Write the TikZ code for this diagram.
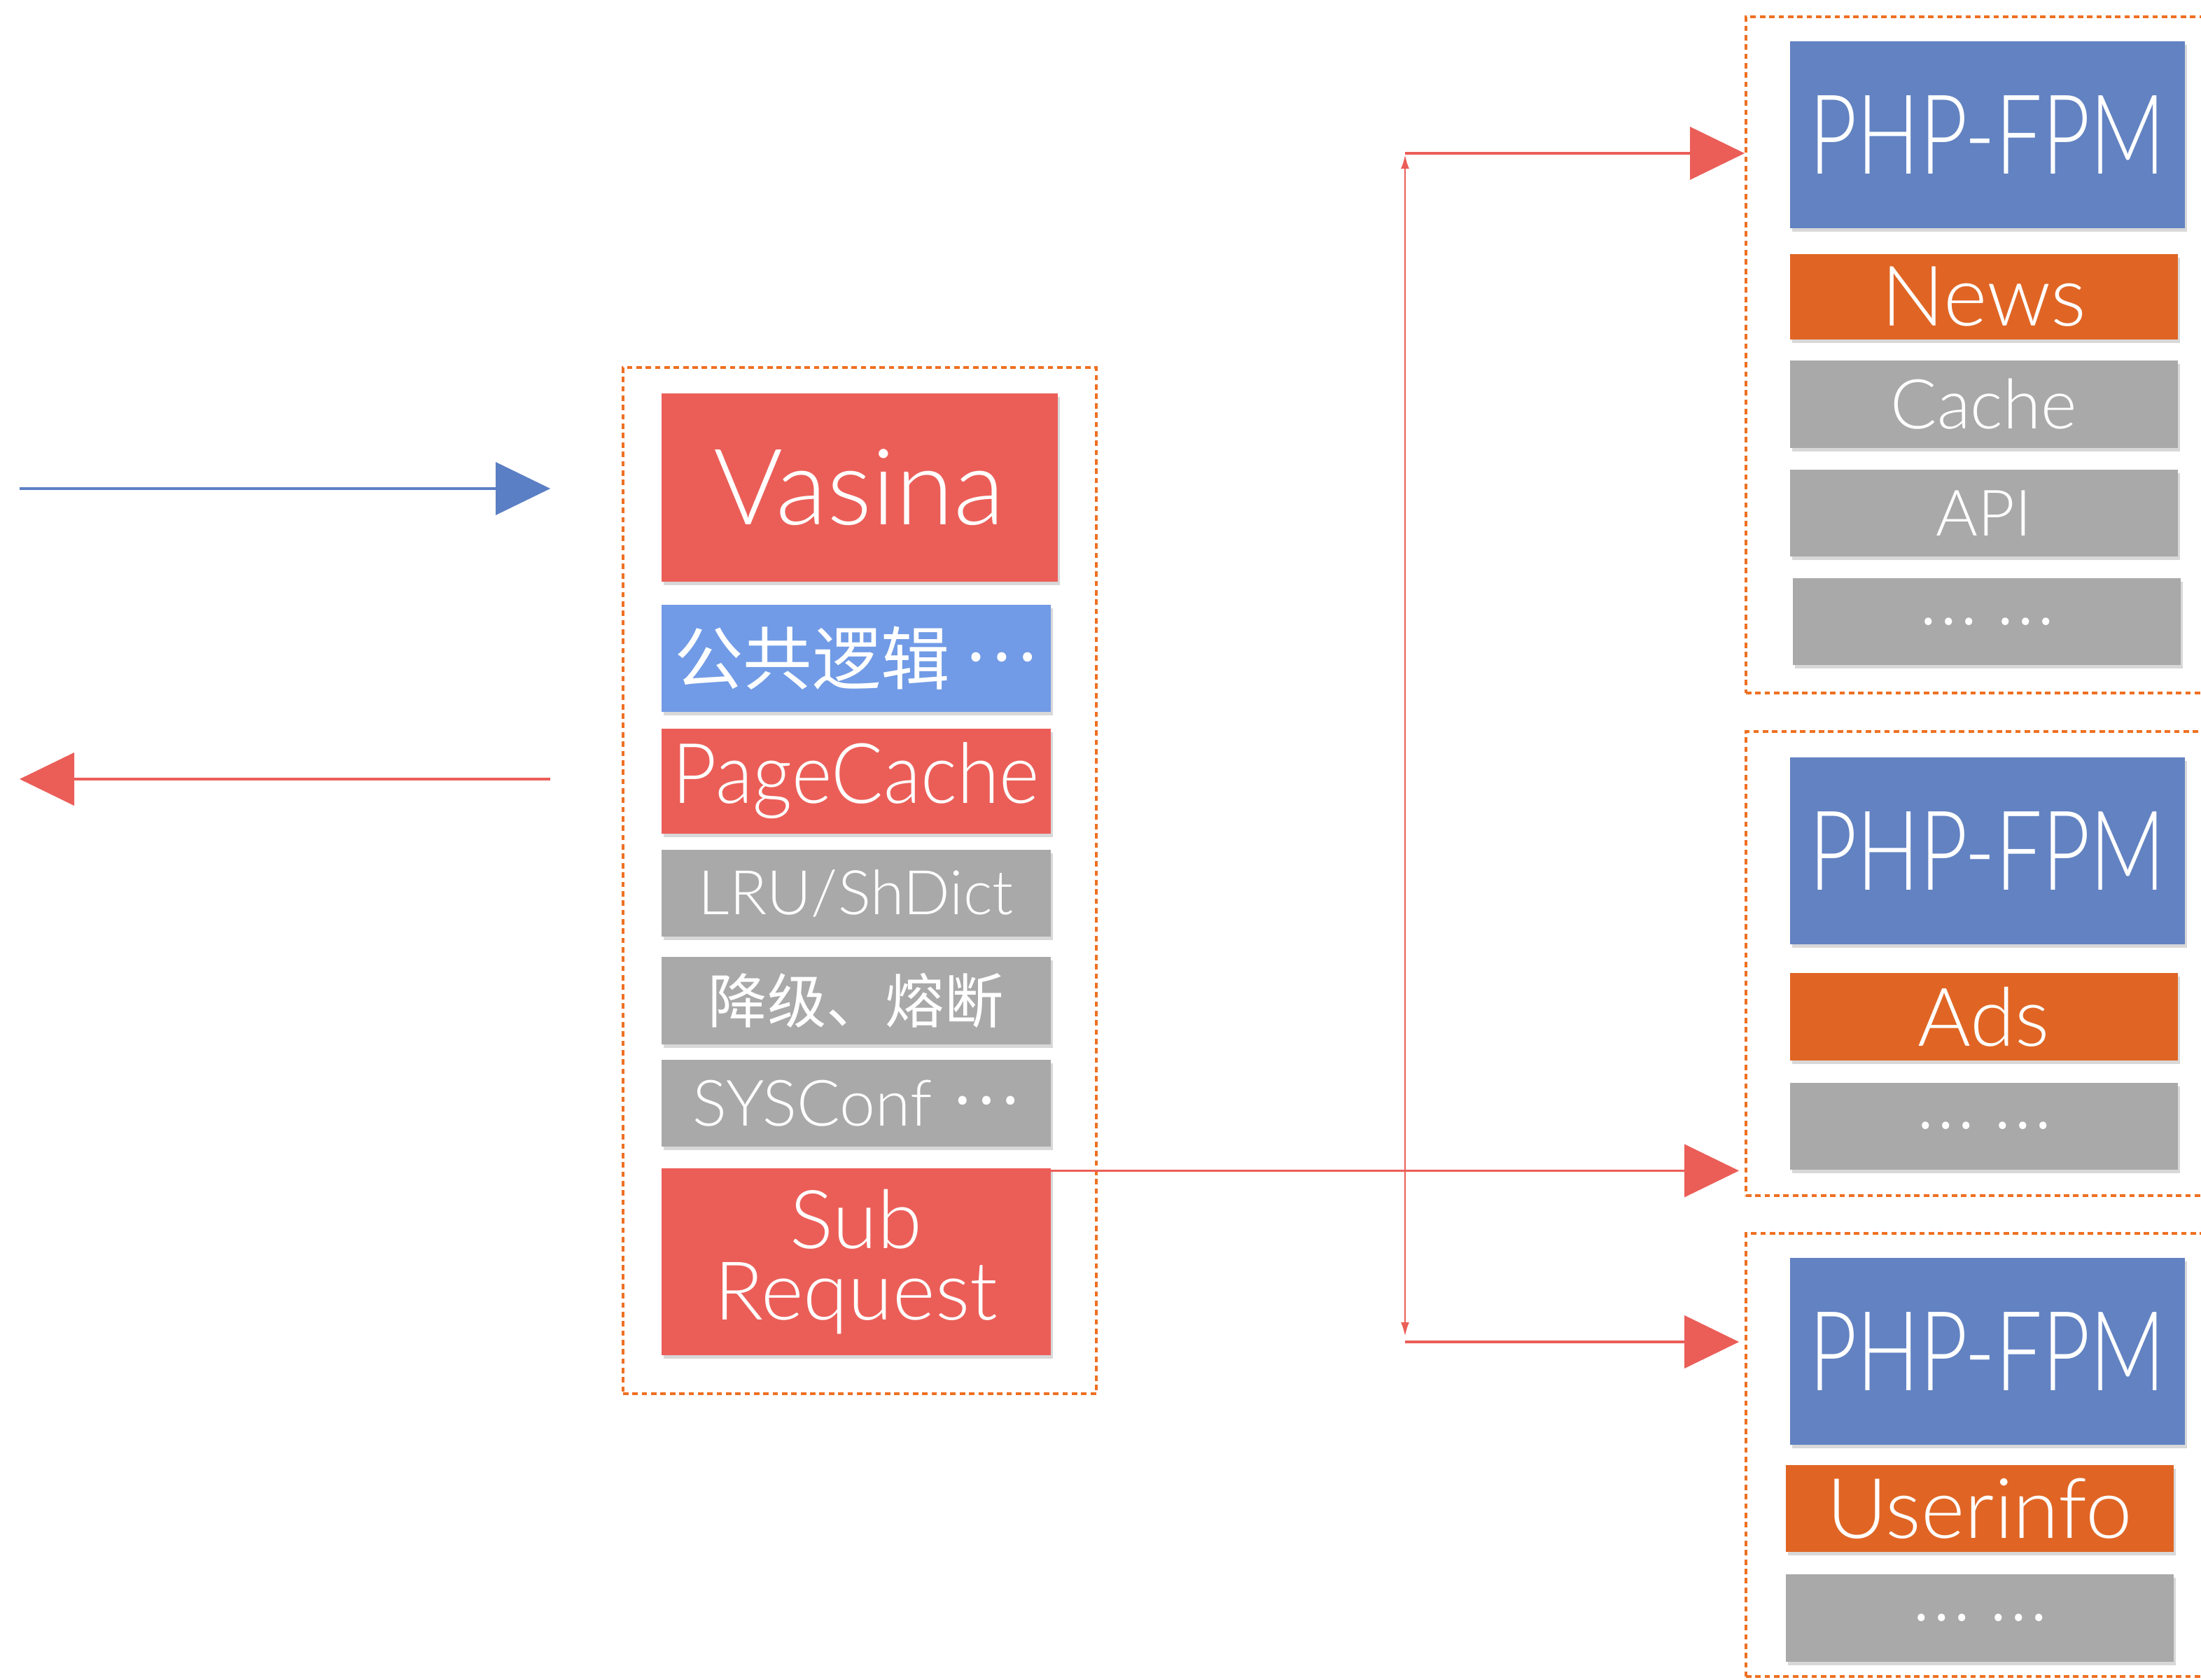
\documentclass[tikz,border=0pt]{standalone}
\usepackage{fontspec}
\setmainfont{Lato Light}
\newfontfamily\cjk{Noto Sans CJK SC}
\usepackage{tikz}
\usetikzlibrary{positioning}
\usetikzlibrary{arrows.meta}
\usetikzlibrary{shadows}
\usetikzlibrary{fit}
\usepackage{xcolor}

\definecolor{vasinared}{HTML}{EB5E58}
\definecolor{fpmblue}{HTML}{6282C2}
\definecolor{logicblue}{HTML}{719BE6}
\definecolor{bizorange}{HTML}{E06524}
\definecolor{cachegray}{HTML}{A8A9A8}
\definecolor{poolorange}{HTML}{EE7022}
\definecolor{reqblue}{HTML}{5B7FC4}

\newcommand{\squeeze}[2]{\scalebox{#1}[1]{#2}}
\newcommand{\middots}{\raisebox{0.34em}{\cjk …}}
\newcommand{\more}{{\cjk …\hspace{8pt}…}}

\tikzset{
  box/.style={rectangle, inner sep=0pt, text=white, align=center,
    drop shadow={opacity=0.3, shadow xshift=0.03cm, shadow yshift=-0.05cm}},
  redbox/.style={box, fill=vasinared},
  logicbox/.style={box, fill=logicblue},
  graybox/.style={box, fill=cachegray},
  fpmbox/.style={box, fill=fpmblue, minimum width=5.64cm, minimum height=2.67cm},
  bizbox/.style={box, fill=bizorange},
  pool/.style={draw=poolorange, line width=1.1pt, dash pattern=on 2.2pt off 1.6pt, inner sep=0pt},
  redarrow/.style={draw=vasinared, line width=1.1pt, -{Triangle[length=7.8mm, width=7.5mm]}},
  bluearrow/.style={draw=reqblue, line width=1.1pt, -{Triangle[length=7.8mm, width=7.5mm]}},
  thinred/.style={draw=vasinared, line width=0.8pt, {Latex[length=2mm, width=1.2mm]}-{Latex[length=2mm, width=1.2mm]}}
}

\begin{document}
\begin{tikzpicture}

    \path[use as bounding box, fill=white] (0,0) rectangle (31.44,-24);

    % Vasina stack
    \node[redbox, minimum width=5.66cm, minimum height=2.69cm, anchor=north west, font=\fontsize{43}{47}\selectfont] (vasina) at (9.44,-5.61) {Vasina};
    \node[logicbox, minimum width=5.56cm, minimum height=1.53cm, below=0.32cm of vasina.south west, anchor=north west, font=\fontsize{28}{32}\selectfont] (logic) {\cjk 公共逻辑\hspace{6pt}\middots};
    \node[redbox, minimum width=5.56cm, minimum height=1.50cm, below=0.22cm of logic.south west, anchor=north west, font=\fontsize{34}{38}\selectfont] (pagecache) {\squeeze{0.92}{PageCache}};
    \node[graybox, minimum width=5.56cm, minimum height=1.24cm, below=0.22cm of pagecache.south west, anchor=north west, font=\fontsize{25}{30}\selectfont] (lru) {LRU/ShDict};
    \node[graybox, minimum width=5.56cm, minimum height=1.25cm, below=0.28cm of lru.south west, anchor=north west, font=\fontsize{24}{28}\selectfont] (degrade) {\cjk 降级、熔断};
    \node[graybox, minimum width=5.56cm, minimum height=1.24cm, below=0.20cm of degrade.south west, anchor=north west, font=\fontsize{26}{30}\selectfont] (sysconf) {SYSConf\hspace{8pt}\middots};
    \node[redbox, minimum width=5.56cm, minimum height=2.67cm, below=0.30cm of sysconf.south west, anchor=north west, font=\fontsize{33}{29}\selectfont] (subreq) {Sub\\Request};
    \node[pool, fit={(8.90,-5.25) (15.66,-19.91)}] (front) {};

    % PHP-FPM pools
    \node[fpmbox, anchor=north west, font=\fontsize{45}{50}\selectfont] (fpm1) at (25.56,-0.58) {\squeeze{0.75}{PHP-FPM}};
    \node[bizbox, minimum width=5.54cm, minimum height=1.22cm, below=0.36cm of fpm1.south west, anchor=north west, font=\fontsize{34}{38}\selectfont] (news) {News};
    \node[graybox, minimum width=5.54cm, minimum height=1.25cm, below=0.28cm of news.south west, anchor=north west, font=\fontsize{28}{32}\selectfont] (cache) {Cache};
    \node[graybox, minimum width=5.54cm, minimum height=1.24cm, below=0.30cm of cache.south west, anchor=north west, font=\fontsize{26}{30}\selectfont] (api) {API};
    \node[graybox, minimum width=5.54cm, minimum height=1.24cm, below=0.30cm of api.south west, anchor=north west, xshift=0.04cm, font=\fontsize{22}{26}\selectfont] (more1) {\more};
    \node[pool, fit={(24.94,-0.24) (31.8,-9.90)}] (pool1) {};

    \node[fpmbox, anchor=north west, font=\fontsize{45}{50}\selectfont] (fpm2) at (25.56,-10.81) {\squeeze{0.75}{PHP-FPM}};
    \node[bizbox, minimum width=5.54cm, minimum height=1.25cm, below=0.40cm of fpm2.south west, anchor=north west, font=\fontsize{33}{37}\selectfont] (ads) {Ads};
    \node[graybox, minimum width=5.54cm, minimum height=1.24cm, below=0.30cm of ads.south west, anchor=north west, font=\fontsize{22}{26}\selectfont] (more2) {\more};
    \node[pool, fit={(24.94,-10.45) (31.8,-17.08)}] (pool2) {};

    \node[fpmbox, anchor=north west, font=\fontsize{45}{50}\selectfont] (fpm3) at (25.56,-17.96) {\squeeze{0.75}{PHP-FPM}};
    \node[bizbox, minimum width=5.54cm, minimum height=1.24cm, below=0.28cm of fpm3.south west, anchor=north west, xshift=-0.06cm, font=\fontsize{34}{38}\selectfont] (userinfo) {Userinfo};
    \node[graybox, minimum width=5.54cm, minimum height=1.25cm, below=0.30cm of userinfo.south west, anchor=north west, font=\fontsize{22}{26}\selectfont] (more3) {\more};
    \node[pool, fit={(24.94,-17.62) (31.8,-23.95)}] (pool3) {};

    % Connect the nodes
    \coordinate (reqin) at (0.28,-6.98);
    \coordinate (reqout) at (0.28,-11.13);
    \coordinate (fantop) at (20.07,-2.19);
    \coordinate (fanbot) at (20.07,-19.17);
    \draw[bluearrow] (reqin) -- ([xshift=-1.02cm]reqin -| front.west);
    \draw[redarrow] ([xshift=-1.02cm]reqout -| front.west) -- (reqout);
    \draw[redarrow] ([yshift=-0.04cm]subreq.north east) -- ([xshift=-0.08cm,yshift=-0.04cm]subreq.north east -| pool2.west);
    \draw[thinred] ([yshift=-0.02cm]fantop) -- ([yshift=0.08cm]fanbot);
    \draw[redarrow] (fantop) -- (fantop -| pool1.west);
    \draw[redarrow] (fanbot) -- ([xshift=-0.08cm]fanbot -| pool3.west);

  \end{tikzpicture}
\end{document}
